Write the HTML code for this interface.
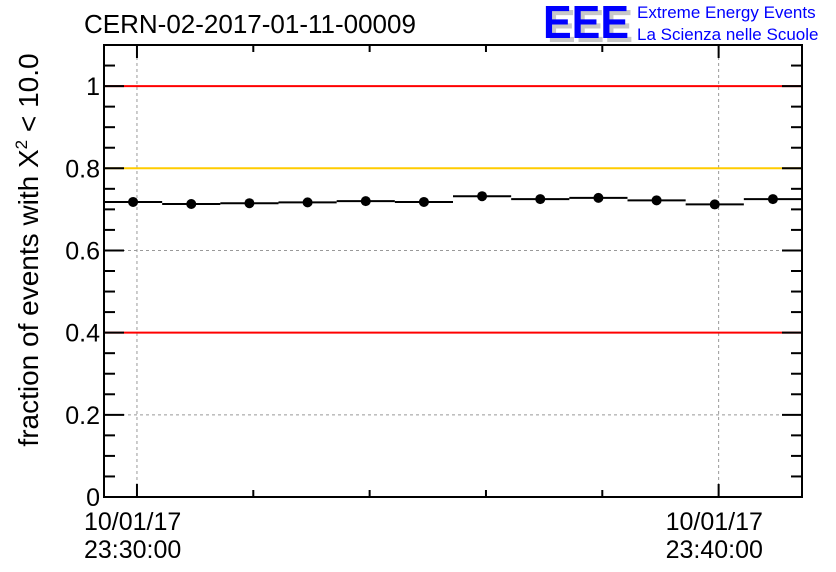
<!DOCTYPE html>
<html><head><meta charset="utf-8"><style>
body{margin:0;background:#fff;}
svg{display:block;font-family:"Liberation Sans",sans-serif;}
</style></head><body>
<svg id="chart" width="836" height="572" xmlns="http://www.w3.org/2000/svg">
<text x="84" y="33" font-size="26">CERN-02-2017-01-11-00009</text>
<g>
<text x="547" y="42" font-size="46" font-weight="bold" fill="#c8c8c8" textLength="86" lengthAdjust="spacingAndGlyphs">EEE</text>
<text x="543" y="38" font-size="46" font-weight="bold" fill="#0000ff" textLength="86" lengthAdjust="spacingAndGlyphs">EEE</text>
<text x="637" y="18" font-size="17" fill="#0000ff">Extreme Energy Events</text>
<text x="637" y="40" font-size="17" fill="#0000ff">La Scienza nelle Scuole</text>
</g>
<text transform="translate(38,250) rotate(-90)" text-anchor="middle" font-size="28">fraction of events with Χ<tspan dy="-11" font-size="17">2</tspan><tspan dy="11"> &lt; 10.0</tspan></text>
<g id="plot"></g>
</svg>
<script>
const binStarts = [-34,26,86,146,206,266,326,386,446,506,566,626]; // seconds relative to 23:30:00
const fractions = [0.718,0.713,0.715,0.717,0.720,0.718,0.732,0.725,0.728,0.722,0.712,0.725];
const yTicks = [0,0.2,0.4,0.6,0.8,1];
const yTickLabels = ["0","0.2","0.4","0.6","0.8","1"];
const xLabelTimes = [0,600];
const xLabels = [["10/01/17","23:30:00"],["10/01/17","23:40:00"]];
const refLines = [{v:1,c:"#ff0000"},{v:0.8,c:"#ffcc00"},{v:0.4,c:"#ff0000"}];
const binWidth = 60;

const L=104,R=802,T=45,B=497, xMin=-34,xMax=686,yMin=0,yMax=1.1;
const X=t=>L+(t-xMin)/(xMax-xMin)*(R-L);
const Y=v=>B-(v-yMin)/(yMax-yMin)*(B-T);
const g=document.getElementById('plot');
const NS="http://www.w3.org/2000/svg";
function mk(tag,attrs){const e=document.createElementNS(NS,tag);for(const k in attrs)e.setAttribute(k,attrs[k]);g.appendChild(e);return e;}

yTicks.forEach(v=>{if(v>0&&v<1){const e=mk('line',{x1:L,x2:R,y1:Y(v),y2:Y(v),stroke:'#999','stroke-dasharray':'3,3','stroke-width':1});

}});
xLabelTimes.forEach(t=>{const e=mk('line',{x1:X(t),x2:X(t),y1:T,y2:B,stroke:'#999','stroke-dasharray':'3,3','stroke-width':1});

});
refLines.forEach(r=>{const e=mk('line',{x1:L,x2:R,y1:Y(r.v),y2:Y(r.v),stroke:r.c,'stroke-width':2});

});
const fr=mk('rect',{x:L,y:T,width:R-L,height:B-T,fill:'none',stroke:'#000','stroke-width':2});


for(let i=0;i<=22;i++){const v=i*0.05;const maj=Math.abs(v/0.2-Math.round(v/0.2))<1e-6;const len=maj?20:11;
 mk('line',{x1:L,x2:L+len,y1:Y(v),y2:Y(v),stroke:'#000','stroke-width':2});
 mk('line',{x1:R,x2:R-len,y1:Y(v),y2:Y(v),stroke:'#000','stroke-width':2});}
yTicks.forEach((v,i)=>{const e=mk('text',{x:L-4,y:Y(v)+9,'text-anchor':'end','font-size':25});e.textContent=yTickLabels[i];

});
for(let t=0;t<=xMax;t+=120){const maj=t%600===0;const len=maj?13:7;
 mk('line',{x1:X(t),x2:X(t),y1:B,y2:B-len,stroke:'#000','stroke-width':2});
 mk('line',{x1:X(t),x2:X(t),y1:T,y2:T+len,stroke:'#000','stroke-width':2});}
xLabelTimes.forEach((t,i)=>{xLabels[i].forEach((s,j)=>{const e=mk('text',{x:X(t)-53,y:530+j*28,'font-size':25});e.textContent=s;

});});
binStarts.forEach((s,i)=>{const v=fractions[i];
 const l=mk('line',{x1:X(s),x2:X(s+binWidth),y1:Y(v),y2:Y(v),stroke:'#000','stroke-width':2});
 
 
 const c=mk('circle',{cx:X(s+binWidth/2),cy:Y(v),r:5,fill:'#000'});
 
 });
</script>
</body></html>
